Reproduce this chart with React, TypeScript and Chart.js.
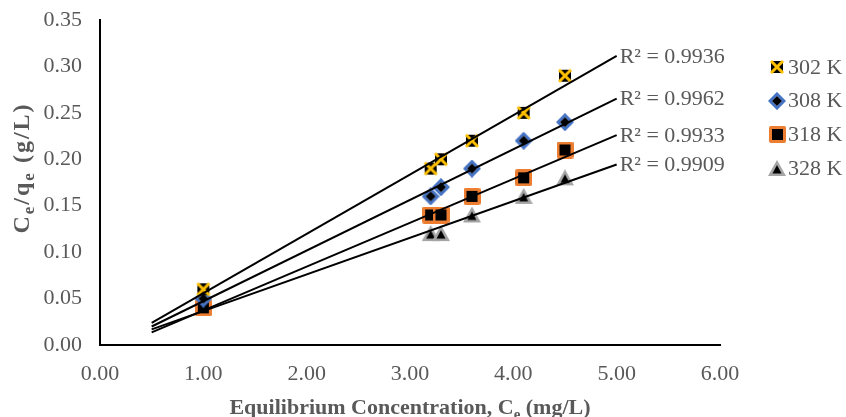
import React, { useEffect, useRef } from 'react';
import { Chart, registerables } from 'chart.js';

Chart.register(...registerables);

// ---- data ----
const concentrations = [1.0, 3.2, 3.3, 3.6, 4.1, 4.5];
const series302 = [0.06, 0.19, 0.20, 0.22, 0.25, 0.29];
const series308 = [0.05, 0.16, 0.17, 0.19, 0.22, 0.24];
const series318 = [0.04, 0.14, 0.14, 0.16, 0.18, 0.21];
const series328 = [0.04, 0.12, 0.12, 0.14, 0.16, 0.18];
const seriesLabels = ['302 K', '308 K', '318 K', '328 K'];
const rSquaredLabels = ['0.9936', '0.9962', '0.9933', '0.9909'];
const trendRange = [0.5, 5.0];
const xAxisRange = [0, 6];
const yAxisRange = [0, 0.35];
const xStep = 1;
const yStep = 0.05;

const FONT = '"Liberation Serif", "Times New Roman", serif';
const TEXT = '#595959';

function linearFit(xs: number[], ys: number[]) {
  const n = xs.length;
  const mx = xs.reduce((s, v) => s + v, 0) / n;
  const my = ys.reduce((s, v) => s + v, 0) / n;
  let sxy = 0;
  let sxx = 0;
  for (let i = 0; i < n; i++) {
    sxy += (xs[i] - mx) * (ys[i] - my);
    sxx += (xs[i] - mx) * (xs[i] - mx);
  }
  const b = sxy / sxx;
  return { a: my - b * mx, b };
}

function makeCanvas(w: number, h: number, draw: (ctx: CanvasRenderingContext2D) => void) {
  const c = document.createElement('canvas');
  c.width = w;
  c.height = h;
  const ctx = c.getContext('2d')!;
  draw(ctx);
  return c;
}

function markerCross() {
  return makeCanvas(16, 16, (ctx) => {
    ctx.fillStyle = '#000';
    ctx.fillRect(2, 2, 12, 12);
    ctx.strokeStyle = '#FFC000';
    ctx.lineWidth = 3;
    ctx.beginPath();
    ctx.moveTo(2, 2);
    ctx.lineTo(14, 14);
    ctx.moveTo(14, 2);
    ctx.lineTo(2, 14);
    ctx.stroke();
  });
}

function markerDiamond() {
  return makeCanvas(18, 18, (ctx) => {
    const c = 9;
    const d = 7;
    ctx.beginPath();
    ctx.moveTo(c, c - d);
    ctx.lineTo(c + d, c);
    ctx.lineTo(c, c + d);
    ctx.lineTo(c - d, c);
    ctx.closePath();
    ctx.fillStyle = '#fff';
    ctx.fill();
    ctx.strokeStyle = '#4472C4';
    ctx.lineWidth = 3;
    ctx.stroke();
    const e = 5;
    ctx.beginPath();
    ctx.moveTo(c, c - e);
    ctx.lineTo(c + e, c);
    ctx.lineTo(c, c + e);
    ctx.lineTo(c - e, c);
    ctx.closePath();
    ctx.fillStyle = '#000';
    ctx.fill();
  });
}

function markerSquare() {
  return makeCanvas(17, 17, (ctx) => {
    ctx.fillStyle = '#ED7D31';
    ctx.beginPath();
    (ctx as any).roundRect ? (ctx as any).roundRect(0, 0, 17, 17, 2) : ctx.rect(0, 0, 17, 17);
    ctx.fill();
    ctx.fillStyle = '#000';
    ctx.fillRect(3, 3, 11, 11);
  });
}

function markerTriangle() {
  return makeCanvas(18, 17, (ctx) => {
    ctx.fillStyle = '#A5A5A5';
    ctx.beginPath();
    ctx.moveTo(9, 0);
    ctx.lineTo(18, 16);
    ctx.lineTo(0, 16);
    ctx.closePath();
    ctx.fill();
    ctx.fillStyle = '#000';
    ctx.beginPath();
    ctx.moveTo(9, 5);
    ctx.lineTo(13.5, 13.5);
    ctx.lineTo(4.5, 13.5);
    ctx.closePath();
    ctx.fill();
  });
}

type Seg = [string, boolean];

function drawRich(ctx: CanvasRenderingContext2D, segs: Seg[], cx: number, baseline: number, size: number, subSize: number, subShift: number, spacing: number) {
  const main = `bold ${size}px ${FONT}`;
  const sub = `bold ${subSize}px ${FONT}`;
  (ctx as any).letterSpacing = `${spacing}px`;
  let total = 0;
  const widths = segs.map(([t, s]) => {
    ctx.font = s ? sub : main;
    const w = ctx.measureText(t).width;
    total += w;
    return w;
  });
  let x = cx - total / 2;
  ctx.textAlign = 'left';
  ctx.textBaseline = 'alphabetic';
  segs.forEach(([t, s], i) => {
    ctx.font = s ? sub : main;
    ctx.fillText(t, x, baseline + (s ? subShift : 0));
    x += widths[i];
  });
  (ctx as any).letterSpacing = '0px';
}

export default function App() {
  const ref = useRef<HTMLCanvasElement | null>(null);

  useEffect(() => {
    if (!ref.current) return;
    const seriesValues = [series302, series308, series318, series328];
    const markers = [markerCross(), markerDiamond(), markerSquare(), markerTriangle()];
    const fits = seriesValues.map((ys) => linearFit(concentrations, ys));

    const scatterSets = seriesValues.map((ys, i) => ({
      type: 'scatter' as const,
      label: seriesLabels[i],
      data: concentrations.map((x, j) => ({ x, y: ys[j] })),
      pointStyle: markers[i] as any,
      pointRadius: 8,
      pointHoverRadius: 8,
      showLine: false,
      order: 1,
    }));
    const trendSets = fits.map((f, i) => ({
      type: 'line' as const,
      label: 'trend ' + seriesLabels[i],
      data: trendRange.map((x) => ({ x, y: f.a + f.b * x })),
      borderColor: '#000',
      borderWidth: 2,
      pointRadius: 0,
      fill: false,
      order: 0,
    }));

    const overlay = {
      id: 'overlay',
      afterDraw(chart: any) {
        const { ctx, chartArea } = chart;
        const xs = chart.scales.x;
        const ys = chart.scales.y;
        ctx.save();
        // R² labels at trendline ends
        ctx.font = `22px ${FONT}`;
        ctx.fillStyle = TEXT;
        ctx.textAlign = 'left';
        ctx.textBaseline = 'middle';
        fits.forEach((f, i) => {
          const xe = trendRange[1];
          const ye = f.a + f.b * xe;
          ctx.fillText('R² = ' + rSquaredLabels[i], xs.getPixelForValue(xe) + 3, ys.getPixelForValue(ye) + 1);
        });
        // legend
        const lx = chartArea.right + 57;
        const ly = chartArea.top + 47;
        seriesLabels.forEach((lab, i) => {
          const m = markers[i];
          const cy = ly + i * 33.7;
          ctx.drawImage(m, Math.round(lx - m.width / 2), Math.round(cy - m.height / 2));
          ctx.font = `22px ${FONT}`;
          ctx.fillStyle = TEXT;
          ctx.textAlign = 'left';
          ctx.textBaseline = 'middle';
          ctx.fillText(lab, lx + 11, cy + 1);
        });
        // axis titles
        ctx.fillStyle = TEXT;
        drawRich(ctx, [['Equilibrium Concentration, C', false], ['e', true], [' (mg/L)', false]],
          (chartArea.left + chartArea.right) / 2, 414, 22, 15, 5, 0);
        ctx.save();
        ctx.translate(29, 168);
        ctx.rotate(-Math.PI / 2);
        drawRich(ctx, [['C', false], ['e', true], ['/q', false], ['e', true], [' (g/L)', false]], 0, 0, 24, 17, 5, 2);
        ctx.restore();
        ctx.restore();
      },
    };

    const chart = new Chart(ref.current, {
      type: 'scatter',
      data: { datasets: [...trendSets, ...scatterSets] as any },
      options: {
        animation: false,
        responsive: false,
        devicePixelRatio: 1,
        layout: { padding: { left: 0, right: 126, top: 0, bottom: 0 } },
        plugins: {
          legend: { display: false },
          tooltip: { enabled: false },
          title: { display: false },
        },
        scales: {
          x: {
            type: 'linear',
            min: xAxisRange[0],
            max: xAxisRange[1],
            ticks: {
              stepSize: xStep,
              callback: (v: any) => Number(v).toFixed(2),
              color: TEXT,
              font: { family: FONT, size: 22 },
              padding: 16,
              maxRotation: 0,
            },
            grid: { display: false, drawTicks: false },
            border: { display: true, color: '#000', width: 2 },
            afterFit: (s: any) => { s.height = 72; },
          },
          y: {
            type: 'linear',
            min: yAxisRange[0],
            max: yAxisRange[1],
            ticks: {
              stepSize: yStep,
              callback: (v: any) => Number(v).toFixed(2),
              color: TEXT,
              font: { family: FONT, size: 22 },
              padding: 18,
            },
            grid: { display: false, drawTicks: false },
            border: { display: true, color: '#000', width: 2 },
            afterFit: (s: any) => { s.width = 100; s.paddingTop = 20; s.paddingBottom = 0; },
          },
        },
      },
      plugins: [overlay],
    });
    return () => chart.destroy();
  }, []);

  return (
    <div style={{ position: 'fixed', left: 0, top: 0, width: 846, height: 417, background: '#fff' }}>
      <canvas ref={ref} width={846} height={417} style={{ width: 846, height: 417 }} />
    </div>
  );
}
